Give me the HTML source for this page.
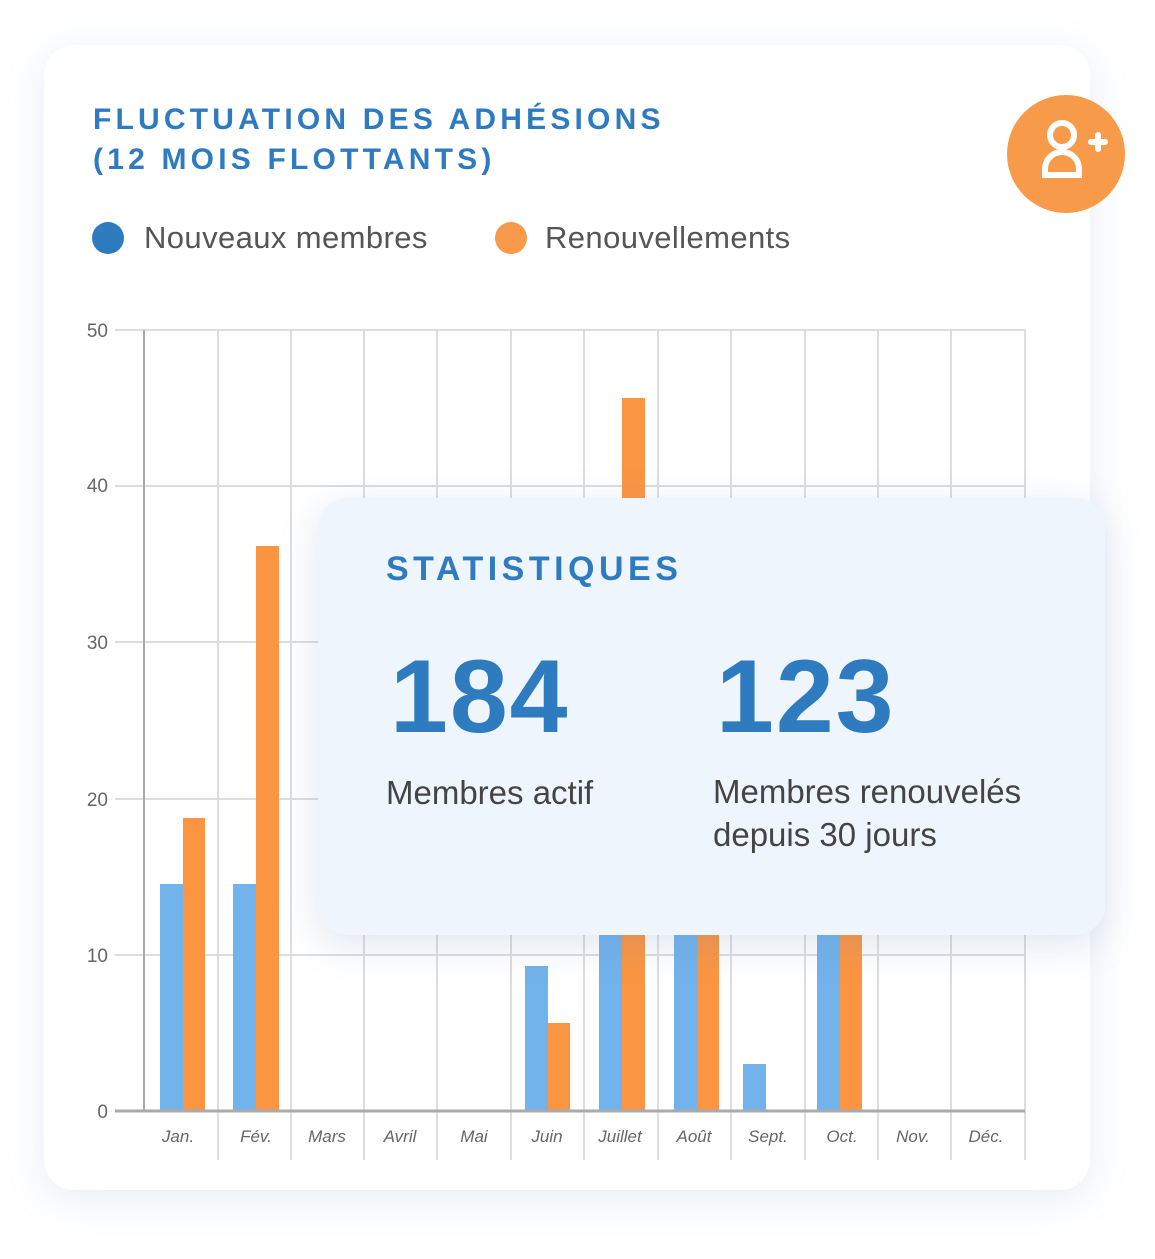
<!DOCTYPE html><html><head><style>
body{margin:0;width:1155px;height:1259px;background:#fff;position:relative;overflow:hidden;font-family:"Liberation Sans",sans-serif}
.card{position:absolute;left:44px;top:45px;width:1046px;height:1145px;background:#fff;border-radius:30px;box-shadow:0 8px 40px rgba(120,150,200,.18)}
.t{position:absolute;left:93px;top:100px;color:#2f7bc0;font-weight:bold;font-size:30px;letter-spacing:4.2px;line-height:40px}
.ic{position:absolute;left:1007px;top:95px;width:118px;height:118px;border-radius:50%;background:#f79a4a}
.lg{position:absolute;top:220px;font-size:31px;color:#555;letter-spacing:.4px}
.dot{position:absolute;top:222px;width:32px;height:32px;border-radius:50%}
.st{position:absolute;left:318px;top:498px;width:787px;height:437px;background:#eff5fd;border-radius:30px;box-shadow:0 10px 40px rgba(100,130,180,.2)}
.st div{position:absolute;color:#444}
.big{color:#2f7bc0!important;font-weight:bold;font-size:104px;letter-spacing:2px}
</style></head><body>
<div class="card"></div>
<div class="t">FLUCTUATION DES ADHÉSIONS<br>(12 MOIS FLOTTANTS)</div>
<div class="ic"><svg width="118" height="118" viewBox="0 0 118 118" fill="none" stroke="#fff" stroke-width="6" stroke-linecap="round"><circle cx="55" cy="40" r="12"/><path d="M38 80 v-6 a16 16 0 0 1 34 0 v6 z"/><path d="M84 47 h14 M91 40 v14"/></svg></div>
<div class="dot" style="left:92px;background:#2f7bc0"></div><div class="lg" style="left:144px">Nouveaux membres</div>
<div class="dot" style="left:495px;background:#f79a4a"></div><div class="lg" style="left:545px">Renouvellements</div>
<svg style="position:absolute;left:0;top:0" width="1155" height="1259">
<g stroke="#ddd" stroke-width="2">
<line x1="115" y1="330" x2="1025" y2="330"/><line x1="115" y1="486" x2="1025" y2="486"/><line x1="115" y1="642" x2="1025" y2="642"/><line x1="115" y1="799" x2="1025" y2="799"/><line x1="115" y1="955" x2="1025" y2="955"/>
<line x1="218" y1="330" x2="218" y2="1160"/><line x1="291" y1="330" x2="291" y2="1160"/><line x1="364" y1="330" x2="364" y2="1160"/><line x1="437" y1="330" x2="437" y2="1160"/><line x1="511" y1="330" x2="511" y2="1160"/><line x1="584" y1="330" x2="584" y2="1160"/><line x1="658" y1="330" x2="658" y2="1160"/><line x1="731" y1="330" x2="731" y2="1160"/><line x1="805" y1="330" x2="805" y2="1160"/><line x1="878" y1="330" x2="878" y2="1160"/><line x1="951" y1="330" x2="951" y2="1160"/><line x1="1025" y1="330" x2="1025" y2="1160"/>
</g>
<g fill="#72b3ec"><rect x="160" y="884" width="23" height="227"/><rect x="233" y="884" width="23" height="227"/><rect x="525" y="966" width="23" height="145"/><rect x="599" y="700" width="23" height="411"/><rect x="674" y="700" width="23" height="411"/><rect x="743" y="1064" width="23" height="47"/><rect x="817" y="700" width="23" height="411"/></g>
<g fill="#fb9542"><rect x="183" y="818" width="22" height="293"/><rect x="256" y="546" width="23" height="565"/><rect x="548" y="1023" width="22" height="88"/><rect x="622" y="398" width="23" height="713"/><rect x="697" y="700" width="22" height="411"/><rect x="840" y="700" width="22" height="411"/></g>
<line x1="144" y1="330" x2="144" y2="1111" stroke="#aaa" stroke-width="2"/>
<line x1="115" y1="1111" x2="1025" y2="1111" stroke="#aaa" stroke-width="3"/>
<g fill="#666" font-size="19" text-anchor="end"><text x="108" y="337">50</text><text x="108" y="492">40</text><text x="108" y="649">30</text><text x="108" y="806">20</text><text x="108" y="962">10</text><text x="108" y="1118">0</text></g>
<g fill="#666" font-size="17" font-style="italic" text-anchor="middle"><text x="178" y="1142">Jan.</text><text x="256" y="1142">Fév.</text><text x="327" y="1142">Mars</text><text x="400" y="1142">Avril</text><text x="474" y="1142">Mai</text><text x="547" y="1142">Juin</text><text x="620" y="1142">Juillet</text><text x="694" y="1142">Août</text><text x="768" y="1142">Sept.</text><text x="842" y="1142">Oct.</text><text x="913" y="1142">Nov.</text><text x="986" y="1142">Déc.</text></g>
</svg>
<div class="st">
<div style="left:68px;top:52px;color:#2f7bc0;font-weight:bold;font-size:34px;letter-spacing:4.5px">STATISTIQUES</div>
<div class="big" style="left:72px;top:140px">184</div>
<div class="big" style="left:398px;top:140px">123</div>
<div style="left:68px;top:276px;font-size:33px">Membres actif</div>
<div style="left:395px;top:272px;font-size:33px;line-height:43px">Membres renouvelés<br>depuis 30 jours</div>
</div>
</body></html>
